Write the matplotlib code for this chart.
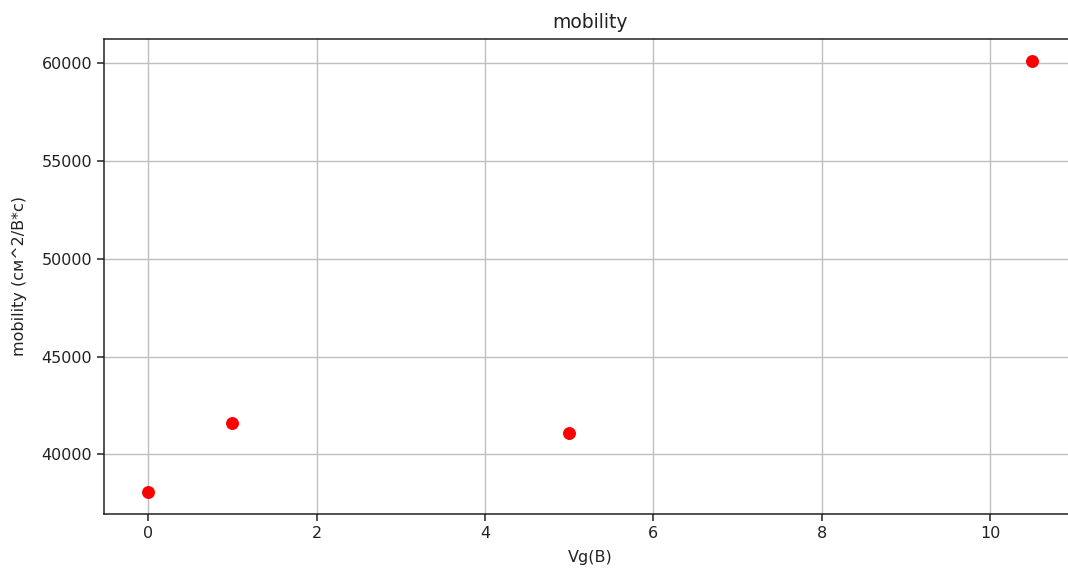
import matplotlib
matplotlib.use("Agg")
import matplotlib.pyplot as plt

# Gate voltage (V) and measured mobility (cm^2/V*s)
vg = [0, 1, 5, 10.5]
mobility = [38100, 41600, 41070, 60150]

plt.rcParams['font.family'] = ['DejaVu Sans']
plt.rcParams['font.size'] = 11.5

fig = plt.figure(figsize=(10.68, 5.69), dpi=100)
W, H = 1068, 569
left, right, top, bottom = 104, 1076.5, 39, 514
ax = fig.add_axes([left / W, 1 - bottom / H, (right - left) / W, (bottom - top) / H])

ax.plot(vg, mobility, 'o', color='red', markersize=8.3)

ax.set_xlim(-0.525, 11.025)
ax.set_ylim(36950, 61250)
ax.set_xticks([0, 2, 4, 6, 8, 10])
ax.set_yticks([40000, 45000, 50000, 55000, 60000])
ax.grid(True, color='#bfbfbf', linewidth=1.0)
ax.set_axisbelow(True)
for s in ax.spines.values():
    s.set_linewidth(1.1)
    s.set_color('#222222')
ax.tick_params(width=1.1, length=5, colors='#222222', labelsize=11.5)

ax.set_title('mobility', fontsize=13.5, color='#222222', pad=8)
ax.set_xlabel('Vg(B)', fontsize=11.5, color='#222222', labelpad=6.5)
ax.set_ylabel('mobility (см^2/В*с)', fontsize=11.5, color='#222222', labelpad=10.5)

fig.savefig('out.png', dpi=100)
